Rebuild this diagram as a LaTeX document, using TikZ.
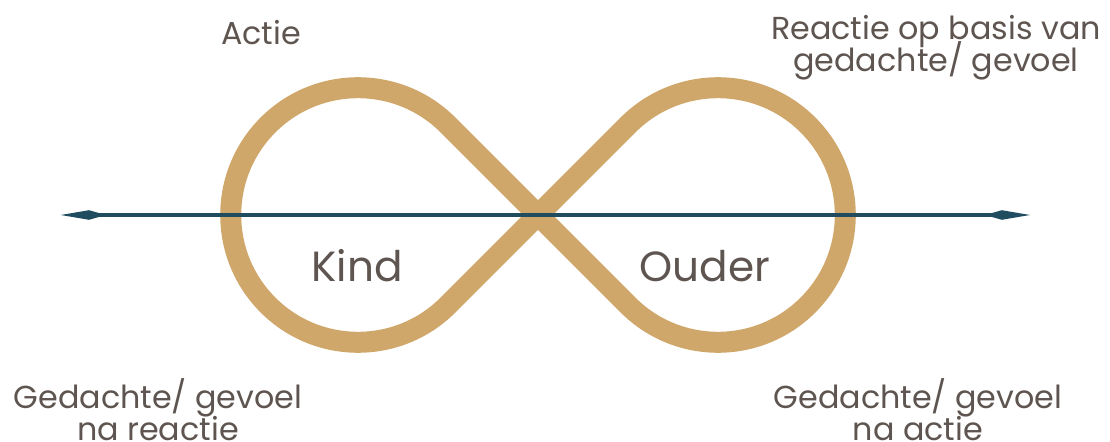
\documentclass[tikz,border=0pt]{standalone}
\usepackage{fontspec}
\setmainfont{Poppins}
\usepackage{xcolor}
\usepackage{tikz}
\usetikzlibrary{arrows.meta,positioning,calc}
\definecolor{Gold}{HTML}{D0A76A}
\definecolor{Petrol}{HTML}{1F4C5E}
\definecolor{Bark}{HTML}{5F5550}
\newcommand\tightlines{\lineskiplimit=-20pt\relax}

\begin{document}
\begin{tikzpicture}[
  x=1cm,y=1cm,
  loop/.style={draw=Gold,line width=0.525cm},
  axis/.style={draw=Petrol,line width=0.115cm,
    {Kite[length=1.125cm,width=0.24cm,inset=0.42cm]}-{Kite[length=1.125cm,width=0.24cm,inset=0.42cm]}},
  label/.style={text=Bark,align=center,font=\fontsize{22.6}{22.8}\selectfont\tightlines,inner sep=0pt},
  side/.style={text=Bark,font=\fontsize{30}{32}\selectfont,inner sep=0pt,anchor=base}
]
\useasboundingbox (0,0) rectangle (27.75,11.025);
\coordinate (cross) at (13.45,5.65);
\coordinate (west) at (1.52,5.65);
\coordinate (east) at (25.75,5.65);
% the figure eight
\draw[loop] (cross) -- ++(2.25,2.25) arc[start angle=135,end angle=-135,radius=3.182]
  -- ($(cross)+(-2.25,2.25)$) arc[start angle=45,end angle=315,radius=3.182] -- cycle;
\draw[axis] (west) -- (east);
\node[side] (kind) at (8.925,3.975) {Kind};
\node[side] (ouder) at (17.625,3.975) {Ouder};
\node[label] (actie) at (6.525,10.2) {Actie};
\node[label] (reactie) at (23.4,9.825) {Reactie op basis van\\gedachte/ gevoel};
\node[label] (nareactie) at (3.95,0.79) {Gedachte/ gevoel\\na reactie};
\node[label] (naactie) at (22.95,0.79) {Gedachte/ gevoel\\na actie};
\end{tikzpicture}
\end{document}
